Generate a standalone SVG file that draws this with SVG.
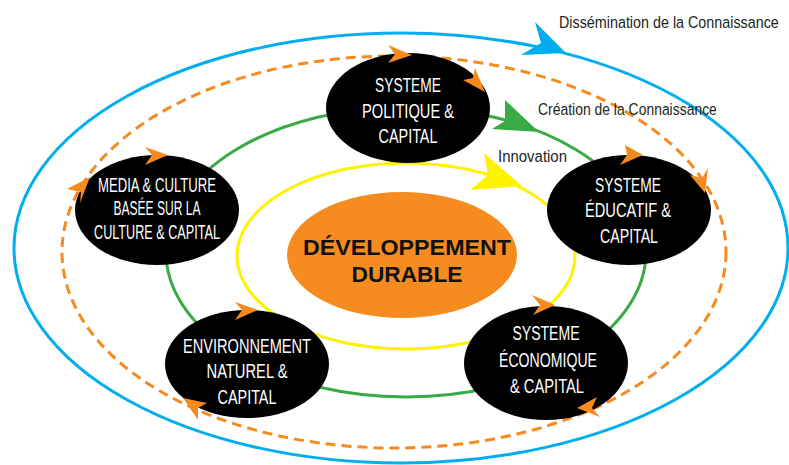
<svg xmlns="http://www.w3.org/2000/svg" width="789" height="465" viewBox="0 0 789 465">
<style>
.ring{fill:none}
.node{fill:#000}
.nt{fill:#fff;font-family:"Liberation Sans",Arial,sans-serif;font-size:20px;text-anchor:middle}
.lbl{fill:#231f20;font-family:"Liberation Sans",Arial,sans-serif;font-size:17px}
.oa{fill:#f58a1f}
</style>
<rect width="789" height="465" fill="#fff"/>
<g id="connectors">
<ellipse class="ring" cx="401" cy="248" rx="387" ry="215" stroke="#00aeef" stroke-width="3"/>
<ellipse class="ring" cx="394" cy="252" rx="332" ry="196" stroke="#f58a1f" stroke-width="3" stroke-dasharray="10 6"/>
<ellipse class="ring" cx="406" cy="252" rx="240" ry="145" stroke="#3aaa47" stroke-width="3"/>
<ellipse class="ring" cx="406" cy="256" rx="169" ry="93" stroke="#fff200" stroke-width="3"/>
</g>
<g id="center">
<ellipse cx="402" cy="255" rx="115" ry="63" fill="#f68b1f"/>
<text x="407" y="255" font-family="Liberation Sans,Arial,sans-serif" font-weight="bold" font-size="22" text-anchor="middle" textLength="208" lengthAdjust="spacingAndGlyphs" fill="#111">DÉVELOPPEMENT</text>
<text x="407" y="282" font-family="Liberation Sans,Arial,sans-serif" font-weight="bold" font-size="22" text-anchor="middle" textLength="111" lengthAdjust="spacingAndGlyphs" fill="#111">DURABLE</text>
</g>
<g id="politique">
<ellipse class="node" cx="408" cy="108" rx="82" ry="55"/>
<text class="nt" x="408" y="92" textLength="66" lengthAdjust="spacingAndGlyphs">SYSTEME</text>
<text class="nt" x="408" y="118" textLength="92" lengthAdjust="spacingAndGlyphs">POLITIQUE &amp;</text>
<text class="nt" x="408" y="143" textLength="59" lengthAdjust="spacingAndGlyphs">CAPITAL</text>
</g>
<g id="media">
<ellipse class="node" cx="157" cy="210" rx="82" ry="55"/>
<text class="nt" x="157" y="192" font-size="18" textLength="118" lengthAdjust="spacingAndGlyphs">MEDIA &amp; CULTURE</text>
<text class="nt" x="157" y="215" font-size="18" textLength="87" lengthAdjust="spacingAndGlyphs">BASÉE SUR LA</text>
<text class="nt" x="157" y="239" font-size="18" textLength="126" lengthAdjust="spacingAndGlyphs">CULTURE &amp; CAPITAL</text>
</g>
<g id="educatif">
<ellipse class="node" cx="629" cy="210" rx="82" ry="55"/>
<text class="nt" x="628" y="192" textLength="66" lengthAdjust="spacingAndGlyphs">SYSTEME</text>
<text class="nt" x="628" y="217" textLength="86" lengthAdjust="spacingAndGlyphs">ÉDUCATIF &amp;</text>
<text class="nt" x="629" y="243" textLength="58" lengthAdjust="spacingAndGlyphs">CAPITAL</text>
</g>
<g id="environnement">
<ellipse class="node" cx="247" cy="364" rx="82" ry="54"/>
<text class="nt" x="247" y="353" textLength="128" lengthAdjust="spacingAndGlyphs">ENVIRONNEMENT</text>
<text class="nt" x="247" y="378" textLength="81" lengthAdjust="spacingAndGlyphs">NATUREL &amp;</text>
<text class="nt" x="247" y="404" textLength="59" lengthAdjust="spacingAndGlyphs">CAPITAL</text>
</g>
<g id="economique">
<ellipse class="node" cx="546" cy="363" rx="82" ry="57"/>
<text class="nt" x="546" y="340" textLength="67" lengthAdjust="spacingAndGlyphs">SYSTEME</text>
<text class="nt" x="548" y="367" textLength="98" lengthAdjust="spacingAndGlyphs">ÉCONOMIQUE</text>
<text class="nt" x="547" y="393" textLength="74" lengthAdjust="spacingAndGlyphs">&amp; CAPITAL</text>
</g>
<g id="arrowheads">
<polygon points="566,53 535,22 541,43 521,55" fill="#00aeef"/>
<polygon points="539,132 505,100 505,121 492,129" fill="#3aaa47"/>
<polygon points="522,186 484,153 488,175 470,190" fill="#fff200"/>
<polygon class="oa" points="412,55 388,45 395,54 388,63"/>
<polygon class="oa" points="485,92 475,68 473,78 463,80"/>
<polygon class="oa" points="168,155 145,147 152,155 145,165"/>
<polygon class="oa" points="90,177 67,189 81,192 80,203"/>
<polygon class="oa" points="643,155 625,145 627,155 620,165"/>
<polygon class="oa" points="705,193 708,168 702,178 690,175"/>
<polygon class="oa" points="258,310 235,302 242,310 235,320"/>
<polygon class="oa" points="183,398 207,403 198,408 198,420"/>
<polygon class="oa" points="555,305 532,295 540,305 533,315"/>
<polygon class="oa" points="577,408 597,397 592,408 600,417"/>
</g>
<g id="labels">
<text class="lbl" transform="translate(559,28) scale(0.843,1)" font-size="19">Dissémination de la Connaissance</text>
<text class="lbl" transform="translate(538,115) scale(0.82,1)">Création de la Connaissance</text>
<text class="lbl" transform="translate(498,162) scale(0.88,1)">Innovation</text>
</g>
</svg>
